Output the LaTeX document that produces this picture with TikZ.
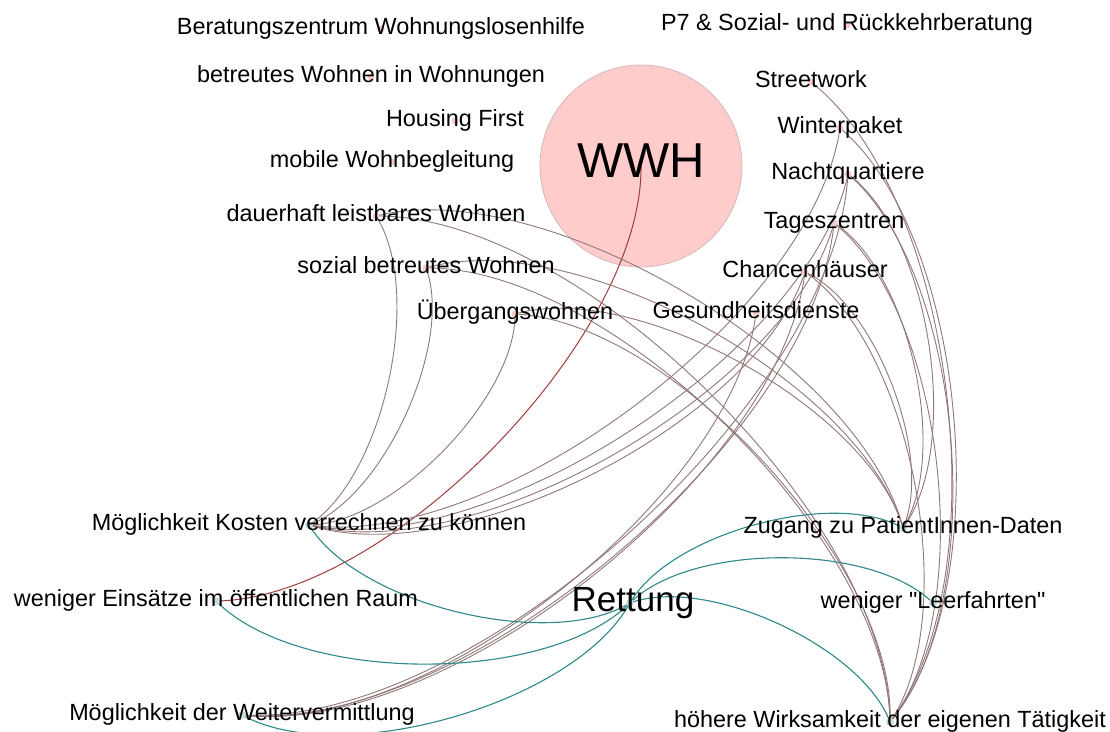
\documentclass[tikz,border=0pt]{standalone}
\usepackage{fontspec}
\setmainfont{Liberation Sans}[Ligatures=TeXOff]
\pgfdeclarelayer{back}
\pgfdeclarelayer{edges}
\pgfsetlayers{back,edges,main}
\definecolor{hubpink}{HTML}{FFCCCC}
\definecolor{hubrim}{HTML}{D2B9B9}
\definecolor{dotpink}{HTML}{F7C9C9}
\definecolor{dotteal}{HTML}{C5DCDC}
\definecolor{edgebrown}{HTML}{917878}
\definecolor{edgered}{HTML}{A03C3C}
\definecolor{edgeteal}{HTML}{2E8A8A}
\begin{document}
\begin{tikzpicture}[x=1pt,y=1pt,
  pdot/.style={circle,fill=dotpink,inner sep=0,minimum size=7pt},
  tdot/.style={circle,fill=dotteal,inner sep=0,minimum size=8pt},
  lab/.style={anchor=base,inner sep=0,font=\fontsize{23.4}{27}\selectfont},
  curved/.style={bend left=45,looseness=0.7225},
  link/.style={draw=edgebrown,line width=0.9pt},
  redlink/.style={draw=edgered,line width=1pt},
  teallink/.style={draw=edgeteal,line width=1.1pt}]
\useasboundingbox (0,0) rectangle (1110,-731);

% white sheet and the hub of the housing services
\begin{pgfonlayer}{back}
\fill[white] (0,0) rectangle (1110,-731);
\node[circle,fill=hubpink,draw=hubrim,line width=0.8pt,minimum size=202pt,inner sep=0] (wwh) at (641,-166) {};
\end{pgfonlayer}

% service dots
\node[pdot] (bz) at (381,-29) {};
\node[pdot] (p7) at (847,-25) {};
\node[pdot] (bw) at (371,-77) {};
\node[pdot] (hf) at (455,-121) {};
\node[pdot] (mw) at (392,-162) {};
\node[pdot] (dl) at (376,-216) {};
\node[pdot] (sb) at (426,-268) {};
\node[pdot] (ug) at (515,-314) {};
\node[pdot] (st) at (811,-82) {};
\node[pdot] (wp) at (840,-128) {};
\node[pdot] (nq) at (848,-174) {};
\node[pdot] (tz) at (834,-223) {};
\node[pdot] (ch) at (805,-272) {};
\node[pdot] (gd) at (756,-313) {};

% outcome dots
\node[tdot] (ko) at (309,-525) {};
\node[tdot] (ei) at (216,-601) {};
\node[tdot] (wv) at (242,-715) {};
\node[tdot] (zu) at (903,-528) {};
\node[tdot] (lf) at (933,-603) {};
\node[tdot] (wi) at (890,-722) {};
\node[tdot] (re) at (630,-603) {};

% connectors
\begin{pgfonlayer}{edges}
\draw[redlink] (wwh.center) to[curved] (ei.center);
\foreach \a/\b in {dl/ko,sb/ko,ug/ko,wp/ko,nq/ko,tz/ko,ch/ko,
                   nq/wv,tz/wv,ch/wv,gd/wv,
                   dl/zu,sb/zu,ug/zu,ch/zu,tz/zu,nq/zu,
                   dl/wi,sb/wi,ug/wi,st/wi,wp/wi,nq/wi,tz/wi,ch/wi}
  \draw[link] (\a.center) to[curved] (\b.center);
\foreach \b in {ko,ei,wv,zu,lf,wi}
  \draw[teallink] (re.center) to[curved] (\b.center);
\end{pgfonlayer}

% labels
\node[anchor=base,inner sep=0,font=\fontsize{49}{55}\selectfont] (wwh-t) at (641,-177) {WWH};
\node[anchor=base,inner sep=0,font=\fontsize{35}{40}\selectfont] (re-t) at (633,-611) {Rettung};
\node[lab] (bz-t) at (381,-34) {Beratungszentrum Wohnungslosenhilfe};
\node[lab] (p7-t) at (847,-30) {P7 \& Sozial- und Rückkehrberatung};
\node[lab] (bw-t) at (371,-82) {betreutes Wohnen in Wohnungen};
\node[lab] (hf-t) at (455,-126) {Housing First};
\node[lab] (mw-t) at (392,-167) {mobile Wohnbegleitung};
\node[lab] (dl-t) at (376,-221) {dauerhaft leistbares Wohnen};
\node[lab] (sb-t) at (426,-273) {sozial betreutes Wohnen};
\node[lab] (ug-t) at (515,-319) {Übergangswohnen};
\node[lab] (st-t) at (811,-87) {Streetwork};
\node[lab] (wp-t) at (840,-133) {Winterpaket};
\node[lab] (nq-t) at (848,-179) {Nachtquartiere};
\node[lab] (tz-t) at (834,-228) {Tageszentren};
\node[lab] (ch-t) at (805,-277) {Chancenhäuser};
\node[lab] (gd-t) at (756,-318) {Gesundheitsdienste};
\node[lab] (ko-t) at (309,-530) {Möglichkeit Kosten verrechnen zu können};
\node[lab] (ei-t) at (216,-606) {weniger Einsätze im öffentlichen Raum};
\node[lab] (wv-t) at (242,-720) {Möglichkeit der Weitervermittlung};
\node[lab] (zu-t) at (903,-533) {Zugang zu PatientInnen-Daten};
\node[lab] (lf-t) at (933,-608) {weniger "Leerfahrten"};
\node[lab] (wi-t) at (890,-727) {höhere Wirksamkeit der eigenen Tätigkeit};
\end{tikzpicture}
\end{document}
